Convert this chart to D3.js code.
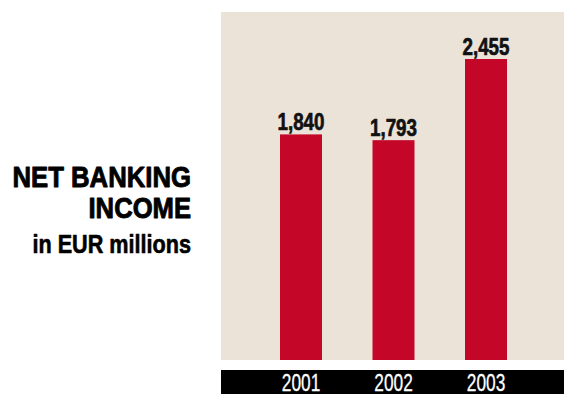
<!DOCTYPE html>
<html>
<head>
<meta charset="utf-8">
<script src="https://cdn.jsdelivr.net/npm/d3@7"></script>
<style>
  html, body { margin: 0; padding: 0; background: #ffffff; }
  svg { display: block; }
  text { font-family: "Liberation Sans", Arial, sans-serif; }
</style>
</head>
<body>
<svg id="chart" width="564" height="394"></svg>
<script>
// Net banking income, EUR millions
const years = ["2001", "2002", "2003"];
const income = [1840, 1793, 2455];
const valueLabels = ["1,840", "1,793", "2,455"];
const titleLines = ["NET BANKING", "INCOME"];
const subtitle = "in EUR millions";

// condensed lettering: each text is squeezed to a set width
const narrow = (sel, w) => sel.attr("textLength", w).attr("lengthAdjust", "spacingAndGlyphs");
// heavier strokes for the squeezed bold lettering
const heavy = (sel, c, w) => sel.attr("stroke", c).attr("stroke-width", w).attr("stroke-linejoin", "round");

const svg = d3.select("#chart");

const panel = { x0: 221, x1: 564, y0: 12, y1: 360 };
const strip = { y0: 370, y1: 394 };

const x = d3.scaleBand()
  .domain(years)
  .range([229.5, 557.5])
  .paddingInner(0.546)
  .paddingOuter(0.546);

const y = d3.scaleLinear()
  .domain([0, 2455])
  .range([panel.y1, 59]);

// beige plot panel
svg.append("rect")
  .attr("x", panel.x0).attr("y", panel.y0)
  .attr("width", panel.x1 - panel.x0).attr("height", panel.y1 - panel.y0)
  .attr("fill", "#ece3d8");

// bars
svg.selectAll("rect.bar")
  .data(income)
  .join("rect")
  .attr("class", "bar")
  .attr("x", (d, i) => x(years[i]))
  .attr("width", x.bandwidth())
  .attr("y", d => y(d))
  .attr("height", d => y(0) - y(d))
  .attr("fill", "#c40629");

// value labels
svg.selectAll("text.val")
  .data(income)
  .join("text")
  .attr("class", "val")
  .attr("x", (d, i) => x(years[i]) + x.bandwidth() / 2 - 23.5)
  .attr("y", d => y(d) - 4.5)
  .attr("font-size", 24)
  .attr("font-weight", "bold")
  .attr("fill", "#111")
  .text((d, i) => valueLabels[i])
  .call(narrow, 47)
  .call(heavy, "#111", 0.7);

// black axis strip
svg.append("rect")
  .attr("x", panel.x0).attr("y", strip.y0)
  .attr("width", panel.x1 - panel.x0).attr("height", strip.y1 - strip.y0)
  .attr("fill", "#000");

const axis = d3.axisBottom(x).tickSize(0).tickPadding(0);
const axisG = svg.append("g")
  .attr("transform", `translate(0,${strip.y0})`)
  .call(axis);
axisG.select(".domain").remove();
axisG.selectAll("text")
  .attr("dy", null)
  .attr("text-anchor", "start")
  .attr("x", -19.2)
  .attr("y", 20.5)
  .attr("font-size", 23)
  .attr("font-family", "Liberation Sans, Arial, sans-serif")
  .attr("fill", "#fff")
  .call(narrow, 38.5)
  .call(heavy, "#fff", 0.3);

// title block
const titleWidths = [178.5, 102.5];
const titleBase = [186.7, 218.3];
svg.selectAll("text.t")
  .data(titleLines)
  .join("text")
  .attr("class", "t")
  .attr("x", (d, i) => 191 - titleWidths[i])
  .attr("y", (d, i) => titleBase[i])
  .attr("font-size", 29)
  .attr("font-weight", "bold")
  .attr("fill", "#000")
  .text(d => d)
  .each(function (d, i) { d3.select(this).call(narrow, titleWidths[i]); })
  .call(heavy, "#000", 0.9);

svg.append("text")
  .attr("x", 191 - 158.5)
  .attr("y", 252.5)
  .attr("font-size", 25)
  .attr("font-weight", "bold")
  .attr("fill", "#000")
  .text(subtitle)
  .call(narrow, 158.5)
  .call(heavy, "#000", 0.6);
</script>
</body>
</html>
